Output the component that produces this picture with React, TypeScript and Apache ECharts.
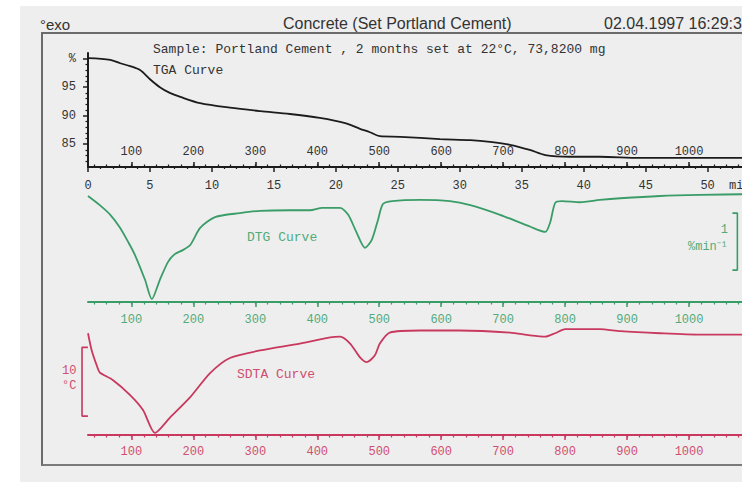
import React, { useEffect, useRef } from "react";
import * as echarts from "echarts";

// TGA: sample mass (%) against furnace temperature (°C)
const tgaTemp = [30, 66, 82, 98, 114, 130, 146, 162, 179, 211, 259, 308, 356, 404, 445, 469, 485, 501, 534, 598, 647, 679, 711, 743, 768, 808, 856, 921, 1018, 1100];
const tgaMass = [100.1, 99.8, 99.2, 98.7, 98.0, 96.4, 95.0, 94.0, 93.3, 92.2, 91.4, 90.8, 90.3, 89.6, 88.7, 87.7, 87.1, 86.4, 86.3, 85.9, 85.7, 85.4, 84.9, 84.0, 83.1, 82.8, 82.8, 82.6, 82.6, 82.6];

// DTG: rate of mass change (%/min)
const dtgTemp = [30, 49, 66, 82, 95, 106, 122, 133, 146, 159, 170, 183, 195, 211, 235, 275, 308, 356, 388, 408, 437, 450, 463, 477, 488, 498, 506, 521, 566, 614, 647, 695, 744, 768, 776, 784, 795, 824, 856, 889, 953, 1018, 1086, 1100];
const dtgRate = [-0.14, -0.30, -0.47, -0.70, -0.95, -1.18, -1.61, -1.95, -1.61, -1.30, -1.16, -1.09, -1.00, -0.70, -0.51, -0.44, -0.40, -0.39, -0.39, -0.35, -0.35, -0.47, -0.77, -1.05, -0.91, -0.56, -0.28, -0.23, -0.21, -0.23, -0.30, -0.47, -0.68, -0.77, -0.60, -0.26, -0.23, -0.25, -0.21, -0.18, -0.14, -0.12, -0.11, -0.11];

// SDTA: sample temperature difference (°C)
const sdtaTemp = [30, 36, 45, 49, 70, 98, 119, 138, 162, 195, 227, 259, 308, 372, 421, 437, 453, 469, 480, 493, 501, 517, 566, 630, 711, 743, 768, 784, 800, 856, 889, 953, 1018, 1086, 1100];
const sdtaDelta = [14.8, 12.3, 9.9, 9.1, 8.0, 5.8, 3.6, 0.3, 2.5, 5.5, 9.0, 11.2, 12.3, 13.3, 14.2, 14.3, 13.3, 11.3, 10.6, 11.6, 13.3, 14.9, 15.2, 15.2, 14.9, 14.5, 14.3, 14.8, 15.4, 15.4, 15.1, 14.8, 14.6, 14.6, 14.6];

// scale bars: 1 %/min for DTG, 10 °C for SDTA
const dtgScaleBar = [[1070, -0.44], [1078, -0.44], [1078, -1.44], [1070, -1.44]];
const sdtaScaleBar = [[30, 12.75], [20.5, 12.75], [20.5, 2.75], [30, 2.75]];

// axis ticks and labels
const tempTicks = [100, 200, 300, 400, 500, 600, 700, 800, 900, 1000];
const tempLabels = [100, 200, 300, 400, 500, 600, 700, 800, 900, 1000, 1100];
const tempMinor = [40, 60, 80, 100, 120, 140, 160, 180, 200, 220, 240, 260, 280, 300, 320, 340, 360, 380, 400, 420, 440, 460, 480, 500, 520, 540, 560, 580, 600, 620, 640, 660, 680, 700, 720, 740, 760, 780, 800, 820, 840, 860, 880, 900, 920, 940, 960, 980, 1000, 1020, 1040, 1060, 1080];
const timeTicks = [0, 5, 10, 15, 20, 25, 30, 35, 40, 45, 50];
const timeLabels = [0, 5, 10, 15, 20, 25, 30, 35, 40, 45, 50, 52.6];
const timeMinor = [1, 2, 3, 4, 6, 7, 8, 9, 11, 12, 13, 14, 16, 17, 18, 19, 21, 22, 23, 24, 26, 27, 28, 29, 31, 32, 33, 34, 36, 37, 38, 39, 41, 42, 43, 44, 46, 47, 48, 49, 51, 52, 53];
const massTicks = [85, 90, 95, 100];
const massMinor = [82, 83, 84, 86, 87, 88, 89, 91, 92, 93, 94, 96, 97, 98, 99];

const BLACK = "#1c1c1c";
const GREEN = "#3a9d68";
const GREEN_TXT = "#52ab7a";
const RED = "#c8385f";
const RED_TXT = "#d04f70";
const MONO = "Liberation Mono";

const zip = (a: number[], b: number[]) => a.map((v, i) => [v, b[i]]);

const tempAxis = (grid: number, color: string, txt: string, inside: boolean, margin: number) => ({
  type: "value",
  gridIndex: grid,
  position: "bottom",
  min: 30,
  max: 1100,
  axisLine: { show: true, onZero: false, lineStyle: { color, width: 2 } },
  axisTick: { show: true, inside, length: 5, customValues: tempTicks, lineStyle: { color, width: 1.5 } },
  axisLabel: {
    show: true,
    inside,
    margin,
    customValues: tempLabels,
    formatter: (v: number) => (v === 1100 ? "°C" : String(v)),
    color: txt,
    fontFamily: MONO,
    fontSize: 12,
  },
  splitLine: { show: false },
});

const minorAxis = (grid: number, color: string, inside: boolean) => ({
  type: "value",
  gridIndex: grid,
  position: "bottom",
  min: 30,
  max: 1100,
  axisLine: { show: false, onZero: false },
  axisTick: { show: true, inside, length: 2.5, customValues: tempMinor, lineStyle: { color, width: 1.2 } },
  axisLabel: { show: false },
  splitLine: { show: false },
});

export default function App() {
  const ref = useRef<HTMLDivElement>(null);

  useEffect(() => {
    if (!ref.current) return;
    const chart = echarts.init(ref.current, null, { renderer: "svg" });

    const option = {
      animation: false,
      backgroundColor: "transparent",
      grid: [
        { left: 88, top: 53, width: 663, height: 114 },
        { left: 88, top: 188, width: 663, height: 114 },
        { left: 88, top: 325, width: 663, height: 110 },
        // same scale as the SDTA panel, widened to the left for its scale bar
        { left: 78, top: 325, width: 673, height: 110 },
      ],
      xAxis: [
        tempAxis(0, BLACK, "#333", true, 9),
        minorAxis(0, BLACK, true),
        {
          type: "value",
          gridIndex: 0,
          position: "bottom",
          min: 0,
          max: 53.5,
          axisLine: { show: false, onZero: false },
          axisTick: { show: true, inside: false, length: 5, customValues: timeTicks, lineStyle: { color: BLACK, width: 1.5 } },
          axisLabel: {
            show: true,
            margin: 13,
            customValues: timeLabels,
            formatter: (v: number) => (v > 50 ? "min" : String(v)),
            color: "#333",
            fontFamily: MONO,
            fontSize: 12,
          },
          splitLine: { show: false },
        },
        {
          type: "value",
          gridIndex: 0,
          position: "bottom",
          min: 0,
          max: 53.5,
          axisLine: { show: false, onZero: false },
          axisTick: { show: true, inside: false, length: 2, customValues: timeMinor, lineStyle: { color: BLACK, width: 1.2 } },
          axisLabel: { show: false },
          splitLine: { show: false },
        },
        tempAxis(1, GREEN, GREEN_TXT, false, 12),
        minorAxis(1, GREEN, false),
        tempAxis(2, RED, RED_TXT, false, 11),
        minorAxis(2, RED, false),
        { type: "value", gridIndex: 3, min: 14, max: 1100, show: false },
      ],
      yAxis: [
        {
          type: "value",
          gridIndex: 0,
          position: "left",
          min: 81,
          max: 101,
          axisLine: { show: true, onZero: false, lineStyle: { color: BLACK, width: 2 } },
          axisTick: { show: true, length: 5, customValues: massTicks, lineStyle: { color: BLACK, width: 1.5 } },
          axisLabel: {
            show: true,
            margin: 12,
            customValues: massTicks,
            formatter: (v: number) => (v === 100 ? "%" : String(v)),
            color: "#333",
            fontFamily: MONO,
            fontSize: 12,
          },
          splitLine: { show: false },
        },
        {
          type: "value",
          gridIndex: 0,
          position: "left",
          min: 81,
          max: 101,
          axisLine: { show: false, onZero: false },
          axisTick: { show: true, length: 2.5, customValues: massMinor, lineStyle: { color: BLACK, width: 1.2 } },
          axisLabel: { show: false },
          splitLine: { show: false },
        },
        { type: "value", gridIndex: 1, min: -2, max: 0, show: false },
        { type: "value", gridIndex: 2, min: 0, max: 16, show: false },
        { type: "value", gridIndex: 3, min: 0, max: 16, show: false },
      ],
      series: [
        {
          name: "TGA",
          type: "line",
          xAxisIndex: 0,
          yAxisIndex: 0,
          data: zip(tgaTemp, tgaMass),
          showSymbol: false,
          smooth: 0.3,
          lineStyle: { color: BLACK, width: 1.8 },
        },
        {
          name: "DTG",
          type: "line",
          xAxisIndex: 4,
          yAxisIndex: 2,
          data: zip(dtgTemp, dtgRate),
          showSymbol: false,
          smooth: 0.25,
          lineStyle: { color: GREEN, width: 1.8 },
        },
        {
          name: "SDTA",
          type: "line",
          xAxisIndex: 6,
          yAxisIndex: 3,
          data: zip(sdtaTemp, sdtaDelta),
          showSymbol: false,
          smooth: 0.25,
          lineStyle: { color: RED, width: 1.8 },
        },
        {
          name: "DTG scale",
          type: "line",
          xAxisIndex: 4,
          yAxisIndex: 2,
          data: dtgScaleBar,
          showSymbol: false,
          clip: false,
          lineStyle: { color: GREEN, width: 1.6 },
        },
        {
          name: "SDTA scale",
          type: "line",
          xAxisIndex: 8,
          yAxisIndex: 4,
          data: sdtaScaleBar,
          showSymbol: false,
          clip: false,
          lineStyle: { color: RED, width: 1.6 },
        },
      ],
      graphic: [
        {
          type: "polyline",
          shape: { points: [[42, 466], [42, 33], [800, 33]] },
          style: { stroke: "#6b6b6b", lineWidth: 2, fill: null },
        },
        {
          type: "line",
          shape: { x1: 42, y1: 465, x2: 800, y2: 465 },
          style: { stroke: "#7a7a7a", lineWidth: 2 },
        },
        { type: "text", x: 40, y: 24, style: { text: "°exo", font: "15px 'Liberation Sans'", fill: "#333", verticalAlign: "middle" } },
        { type: "text", x: 283, y: 23, style: { text: "Concrete (Set Portland Cement)", font: "16px 'Liberation Sans'", fill: "#333", verticalAlign: "middle" } },
        { type: "text", x: 604, y: 23, style: { text: "02.04.1997 16:29:32", font: "16px 'Liberation Sans'", fill: "#333", verticalAlign: "middle" } },
        { type: "text", x: 153, y: 49, style: { text: "Sample: Portland Cement , 2 months set at 22°C, 73,8200 mg", font: `13px '${MONO}'`, fill: "#333", verticalAlign: "middle" } },
        { type: "text", x: 153, y: 70, style: { text: "TGA Curve", font: `13px '${MONO}'`, fill: "#333", verticalAlign: "middle" } },
        { type: "text", x: 247, y: 237, style: { text: "DTG Curve", font: `13px '${MONO}'`, fill: GREEN_TXT, verticalAlign: "middle" } },
        { type: "text", x: 237, y: 374, style: { text: "SDTA Curve", font: `13px '${MONO}'`, fill: RED_TXT, verticalAlign: "middle" } },
        { type: "text", x: 728, y: 230, style: { text: "1", font: `12px '${MONO}'`, fill: GREEN_TXT, align: "right", verticalAlign: "middle" } },
        { type: "text", x: 728, y: 247, style: { text: "%min⁻¹", font: `12px '${MONO}'`, fill: GREEN_TXT, align: "right", verticalAlign: "middle" } },
        { type: "text", x: 62, y: 371, style: { text: "10", font: `12px '${MONO}'`, fill: RED_TXT, verticalAlign: "middle" } },
        { type: "text", x: 62, y: 386, style: { text: "°C", font: `12px '${MONO}'`, fill: RED_TXT, verticalAlign: "middle" } },
      ],
    };

    chart.setOption(option as any);
    return () => chart.dispose();
  }, []);

  return (
    <div style={{ position: "fixed", left: 0, top: 0, width: 742, height: 482, overflow: "hidden", background: "#ffffff" }}>
      <div style={{ position: "absolute", left: 20, top: 6, width: 780, height: 476, background: "#eeeeee" }} />
      <div ref={ref} style={{ position: "absolute", left: 0, top: 0, width: 800, height: 482 }} />
    </div>
  );
}
